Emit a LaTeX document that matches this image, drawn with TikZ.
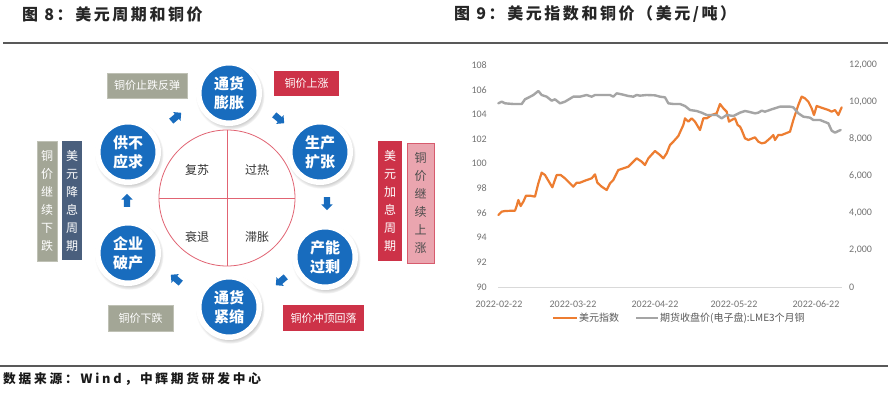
\documentclass[tikz,border=0pt]{standalone}
\usepackage{fontspec}
\setmainfont{Liberation Serif}
\newfontfamily\cjk{Noto Sans CJK SC}
\newfontfamily\cjkt{Noto Sans CJK SC}[LetterSpace=16]
\newfontfamily\cjks{Noto Sans CJK SC}[LetterSpace=22]
\newfontfamily\axfont{Carlito}
\usetikzlibrary{shapes.arrows,shadows}
\definecolor{cblue}{RGB}{24,108,190}
\definecolor{cgraybox}{RGB}{163,166,150}
\definecolor{cslate}{RGB}{74,95,125}
\definecolor{cred}{RGB}{205,50,72}
\definecolor{cpink}{RGB}{234,165,175}
\definecolor{cring}{RGB}{225,100,115}
\definecolor{corange}{RGB}{237,125,49}
\definecolor{cline}{RGB}{165,165,165}
\begin{document}
\begin{tikzpicture}[x=1pt,y=-1pt,
  title/.style={font=\cjkt\bfseries\fontsize{16}{18}\selectfont, text=black!85, inner sep=0},
  rule/.style={draw=black!65, line width=1.6pt},
  src/.style={font=\cjks\bfseries\fontsize{12.7}{14}\selectfont, text=black!90, inner sep=0},
  bubble/.style={circle, fill=cblue, draw=white, line width=5.5pt, minimum size=60.5pt, inner sep=0,
    text=white, align=center, font=\cjk\bfseries\fontsize{15}{19}\selectfont,
    circular drop shadow={shadow scale=1.14, shadow xshift=1pt, shadow yshift=-2pt, opacity=0.45}},
  quad/.style={font=\cjk\fontsize{12}{14}\selectfont, text=black!80},
  barrow/.style={single arrow, fill=cblue, inner sep=3pt, single arrow head extend=2.5pt, minimum height=13pt},
  hbox/.style={inner sep=0, text=white, font=\cjk\fontsize{11}{13}\selectfont},
  vbox/.style={inner sep=0, text=white, align=center, font=\cjk\fontsize{12}{18}\selectfont},
  ax/.style={font=\axfont\fontsize{10}{12}\selectfont, text=black!55, inner sep=0},
  lg/.style={font=\cjk\fontsize{10}{12}\selectfont, text=black!65, inner sep=0},
]
\useasboundingbox (0,0) rectangle (895,393);
\fill[white] (0,0) rectangle (895,393);

% titles and rules
\node[title, anchor=west] (t8) at (22,14) {图 8：美元周期和铜价};
\node[title, anchor=west] (t9) at (454,14) {图 9：美元指数和铜价（美元/吨）};
\coordinate (ra) at (3,43); \coordinate (rb) at (888,43);
\draw[rule] (ra) -- (rb);
\coordinate (rc) at (0,366); \coordinate (rd) at (888,366);
\draw[rule] (rc) -- (rd);
\node[src, anchor=west] (src) at (3,379) {数据来源：Wind，中辉期货研发中心};

% ---------- left diagram ----------
\node[circle, draw=cring, line width=0.8pt, minimum size=136pt, inner sep=0] (core) at (227,198) {};
\draw[cring, line width=0.8pt] (core.north) -- (core.south);
\draw[cring, line width=0.8pt] (core.west) -- (core.east);
\node[quad] (q1) at (197,170) {复苏};
\node[quad] (q2) at (257,170) {过热};
\node[quad] (q3) at (197,237) {衰退};
\node[quad] (q4) at (257,237) {滞胀};

\node[bubble] (b1) at (229,93) {通货\\膨胀};
\node[bubble] (b2) at (320,152) {生产\\扩张};
\node[bubble] (b3) at (325,257) {产能\\过剩};
\node[bubble] (b4) at (229,307) {通货\\紧缩};
\node[bubble] (b5) at (128,253) {企业\\破产};
\node[bubble] (b6) at (128,152) {供不\\应求};

\node[barrow, rotate=-40] (a1) at (278,118) {};
\node[barrow, rotate=-90] (a2) at (327,202) {};
\node[barrow, rotate=-140] (a3) at (282,280) {};
\node[barrow, rotate=140] (a4) at (177,280) {};
\node[barrow, rotate=90] (a5) at (127,202) {};
\node[barrow, rotate=40] (a6) at (175,118) {};

\node[hbox, fill=cgraybox, draw=cgraybox!70, minimum width=80pt, minimum height=25pt] (g1) at (147,85.5) {铜价止跌反弹};
\node[hbox, fill=cred, minimum width=65pt, minimum height=25pt] (r1) at (306.5,83.5) {铜价上涨};
\node[hbox, fill=cred, minimum width=81pt, minimum height=26pt] (r2) at (323.5,318) {铜价冲顶回落};
\node[hbox, fill=cgraybox, draw=cgraybox!70, minimum width=65pt, minimum height=26pt] (g2) at (140.5,318) {铜价下跌};

\node[vbox, fill=cgraybox, draw=cgraybox!70, minimum width=20pt, minimum height=120pt] (v1) at (47,201) {铜\\价\\继\\续\\下\\跌};
\node[vbox, fill=cslate, minimum width=20pt, minimum height=119pt] (v2) at (72,200.5) {美\\元\\降\\息\\周\\期};
\node[vbox, fill=cred, minimum width=24pt, minimum height=120pt] (v3) at (390,201) {美\\元\\加\\息\\周\\期};
\node[vbox, fill=cpink, draw=cred!80, line width=0.6pt, text=black!70, minimum width=27pt, minimum height=120pt] (v4) at (420.5,203) {铜\\价\\继\\续\\上\\涨};

% ---------- right chart ----------
\foreach \v in {90,92,...,108} {
  \node[ax, anchor=east] (yl\v) at (487,{65+(108-\v)*12.333}) {\v};
}
\foreach \v/\t in {0/0,2000/{2,000},4000/{4,000},6000/{6,000},8000/{8,000},10000/{10,000},12000/{12,000}} {
  \node[ax, anchor=west] (yr\v) at (849,{287-\v*0.0185}) {\t};
}
\coordinate (x0) at (498,287); \coordinate (x1) at (842,287);
\draw[black!15, line width=0.8pt] (x0) -- (x1);
\node[ax] (d1) at (499,304) {2022-02-22};
\node[ax] (d2) at (573,304) {2022-03-22};
\node[ax] (d3) at (655,304) {2022-04-22};
\node[ax] (d4) at (734,304) {2022-05-22};
\node[ax] (d5) at (816,304) {2022-06-22};

\begin{scope}[shift={(440,50)},scale=1/3]
\draw[corange, line width=2.2pt, line join=round, line cap=round]
(175,495) -- (185,485) -- (195,483) -- (225,482) -- (230,468) -- (235,450) -- (242,468) -- (250,455) -- (258,437) -- (270,437) -- (285,440) -- (295,400) -- (305,368) -- (315,375) -- (325,392) -- (337,412) -- (350,375) -- (362,375) -- (375,385) -- (390,400) -- (400,410) -- (410,398) -- (420,398) -- (435,392) -- (455,385) -- (465,373) -- (472,398) -- (485,410) -- (500,420) -- (510,400) -- (520,390) -- (535,360) -- (550,355) -- (565,350) -- (575,340) -- (590,325) -- (605,335) -- (615,345) -- (625,325) -- (645,303) -- (660,315) -- (670,325) -- (680,310) -- (690,285) -- (700,275) -- (715,258) -- (730,225) -- (735,205) -- (745,215) -- (755,205) -- (765,215) -- (780,240) -- (790,205) -- (800,205) -- (815,195) -- (830,190) -- (840,162) -- (850,175) -- (860,185) -- (867,215) -- (875,210) -- (885,205) -- (893,225) -- (900,230) -- (905,240) -- (915,265) -- (925,270) -- (945,262) -- (955,275) -- (965,280) -- (975,278) -- (990,265) -- (1000,255) -- (1005,270) -- (1015,255) -- (1025,255) -- (1050,245) -- (1060,210) -- (1075,165) -- (1085,140) -- (1095,145) -- (1105,155) -- (1115,175) -- (1122,195) -- (1130,168) -- (1150,175) -- (1165,180) -- (1175,185) -- (1185,180) -- (1195,195) -- (1205,172);
\draw[cline, line width=2.4pt, line join=round, line cap=round]
(175,160) -- (185,155) -- (195,160) -- (220,162) -- (245,162) -- (255,148) -- (265,143) -- (280,135) -- (295,123) -- (305,135) -- (320,140) -- (335,152) -- (345,148) -- (360,160) -- (375,155) -- (400,140) -- (420,140) -- (440,135) -- (455,140) -- (465,135) -- (485,135) -- (510,135) -- (520,140) -- (530,130) -- (545,133) -- (565,138) -- (580,140) -- (590,135) -- (600,137) -- (620,135) -- (645,136) -- (660,140) -- (675,142) -- (685,160) -- (700,162) -- (720,162) -- (735,168) -- (750,180) -- (770,183) -- (785,188) -- (800,195) -- (830,195) -- (845,205) -- (860,195) -- (880,198) -- (900,188) -- (915,183) -- (925,185) -- (945,190) -- (955,188) -- (965,182) -- (975,185) -- (995,178) -- (1020,170) -- (1050,170) -- (1060,172) -- (1075,190) -- (1090,200) -- (1110,203) -- (1120,210) -- (1140,210) -- (1165,220) -- (1175,242) -- (1185,248) -- (1195,243) -- (1202,240);
\end{scope}

% legend
\coordinate (lo1) at (553,318); \coordinate (lo2) at (577,318);
\draw[corange, line width=2.2pt] (lo1) -- (lo2);
\node[lg, anchor=west] (lt1) at (579,318) {美元指数};
\coordinate (lc1) at (636,318); \coordinate (lc2) at (658,318);
\draw[cline, line width=2.4pt] (lc1) -- (lc2);
\node[lg, anchor=west] (lt2) at (660,318) {期货收盘价(电子盘):LME3个月铜};
\end{tikzpicture}
\end{document}
